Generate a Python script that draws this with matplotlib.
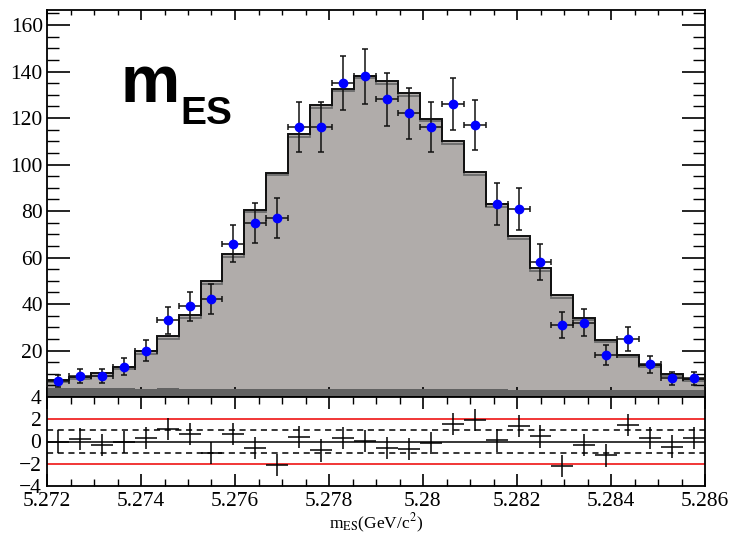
import matplotlib
matplotlib.use('Agg')
import matplotlib.pyplot as plt
from matplotlib.ticker import MultipleLocator, FixedLocator, NullFormatter
import numpy as np

plt.rcParams['font.family'] = 'Liberation Serif'
plt.rcParams['mathtext.fontset'] = 'stix'

# 30 bins in m_ES
x_lo, x_hi, n_bins = 5.272, 5.286, 30
edges = np.linspace(x_lo, x_hi, n_bins + 1)
centers = 0.5 * (edges[:-1] + edges[1:])
half_w = 0.5 * (edges[1] - edges[0])

data_counts = [7, 9, 9, 13, 20, 33, 39, 42, 66, 75, 77, 116, 116, 135, 138,
               128, 122, 116, 126, 117, 83, 81, 58, 31, 32, 18, 25, 14, 8, 8]

model_total = [7.4, 8.5, 10.2, 13.1, 19.6, 26.2, 35.4, 49.7, 61.6, 80.6,
               96.5, 113.0, 125.7, 132.7, 138.3, 136.0, 130.8, 119.8, 110.2, 96.7,
               82.9, 69.2, 55.5, 43.8, 34.2, 24.6, 18.1, 13.8, 10.0, 7.8]

model_inner = [6.6, 7.6, 9.2, 12.0, 18.5, 25.0, 34.2, 48.5, 60.4, 79.4,
               95.4, 111.8, 124.5, 131.5, 137.1, 134.8, 129.6, 118.6, 109.0, 95.5,
               81.7, 68.0, 54.3, 42.6, 33.0, 23.5, 17.0, 12.8, 9.1, 7.0]

background = [3.9, 3.8, 3.7, 3.7, 3.6, 3.7, 3.5, 3.6, 3.5, 3.6,
              3.4, 3.5, 3.4, 3.5, 3.4, 3.4, 3.3, 3.3, 3.4, 3.3,
              3.3, 3.2, 3.2, 3.1, 3.1, 3.1, 3.0, 3.0, 2.9, 2.9]

pulls = [0.0, 0.2, -0.3, -0.05, 0.3, 1.15, 0.7, -1.0, 0.7, -0.6,
         -2.1, 0.4, -0.8, 0.3, 0.05, -0.6, -0.7, -0.15, 1.55, 1.95,
         0.1, 1.4, 0.45, -2.2, -0.3, -1.25, 1.5, 0.3, -0.45, 0.3]

data_err = np.sqrt(np.array(data_counts, dtype=float))

fig = plt.figure(figsize=(7.32, 5.34), dpi=100)
ax = fig.add_axes([47 / 732, 1 - 397 / 534, 658 / 732, 387 / 534])
axr = fig.add_axes([47 / 732, 1 - 486 / 534, 658 / 732, 89 / 534])

# top panel: stacked model + data
ax.stairs(model_total, edges, fill=True, color='#b0acaa', zorder=1)
ax.stairs(background, edges, fill=True, color='#626262', zorder=2)
ax.stairs(model_inner, edges, color='#6a6a6a', lw=1.3, zorder=3)
ax.stairs(model_total, edges, color='#111111', lw=1.4, zorder=4)
ax.errorbar(centers, data_counts, yerr=data_err, xerr=half_w, fmt='o',
            color='#111111', mfc='#0000ff', mec='#0000ff', ms=6,
            elinewidth=1.1, capsize=2.5, capthick=1.1, zorder=5)

ax.set_xlim(x_lo, x_hi)
ax.set_ylim(0, 166.5)
ax.yaxis.set_major_locator(FixedLocator(np.arange(20, 161, 20)))
ax.yaxis.set_minor_locator(MultipleLocator(5))
ax.xaxis.set_major_locator(MultipleLocator(0.002))
ax.xaxis.set_minor_locator(MultipleLocator(0.0005))
ax.xaxis.set_major_formatter(NullFormatter())
ax.tick_params(axis='y', which='major', direction='in', length=16.5, width=1.2,
               left=True, right=True, labelsize=15.5, pad=3)
ax.tick_params(axis='y', which='minor', direction='in', length=8.5, width=1.0,
               left=True, right=True)
ax.tick_params(axis='x', which='major', direction='in', length=7, width=1.2,
               top=True, bottom=True)
ax.tick_params(axis='x', which='minor', direction='in', length=3.8, width=1.0,
               top=True, bottom=True)
for sp in ax.spines.values():
    sp.set_linewidth(1.3)

fig.text(121 / 732, 1 - 101.7 / 534, 'm', family='Liberation Sans',
         weight='bold', fontsize=48, va='baseline', ha='left')
fig.text(180 / 732, 1 - 124 / 534, 'ES', family='Liberation Sans',
         weight='bold', fontsize=28, va='baseline', ha='left')

# bottom panel: pulls
axr.axhline(0, color='black', lw=1.1, zorder=1)
for lvl in (1, -1):
    axr.axhline(lvl, color='black', lw=1.1, ls=(0, (4, 3)), zorder=1)
for lvl in (2, -2):
    axr.axhline(lvl, color='#ee0000', lw=1.1, zorder=1)
axr.errorbar(centers, pulls, yerr=1, xerr=half_w, fmt='none', ecolor='black',
             elinewidth=1.1, capsize=0, zorder=3)

axr.set_xlim(x_lo, x_hi)
axr.set_ylim(-4, 4)
axr.yaxis.set_major_locator(FixedLocator([-4, -2, 0, 2, 4]))
axr.xaxis.set_minor_locator(MultipleLocator(0.0005))
axr.set_xticks(np.arange(5.272, 5.2861, 0.002))
axr.set_xticklabels(['5.272', '5.274', '5.276', '5.278', '5.28', '5.282',
                     '5.284', '5.286'])
axr.tick_params(axis='y', which='major', length=0, labelsize=15.5, pad=4)
axr.tick_params(axis='x', which='major', direction='in', length=8.5, width=1.2,
                top=True, bottom=True, labelsize=15.5, pad=4)
axr.tick_params(axis='x', which='minor', direction='in', length=5, width=1.0,
                top=True, bottom=True)
for sp in axr.spines.values():
    sp.set_linewidth(1.3)
axr.set_xlabel(r'm$_{\mathrm{ES}}$(GeV/c$^{2}$)', fontsize=12.5, labelpad=1)

fig.savefig('out.png', dpi=100)
